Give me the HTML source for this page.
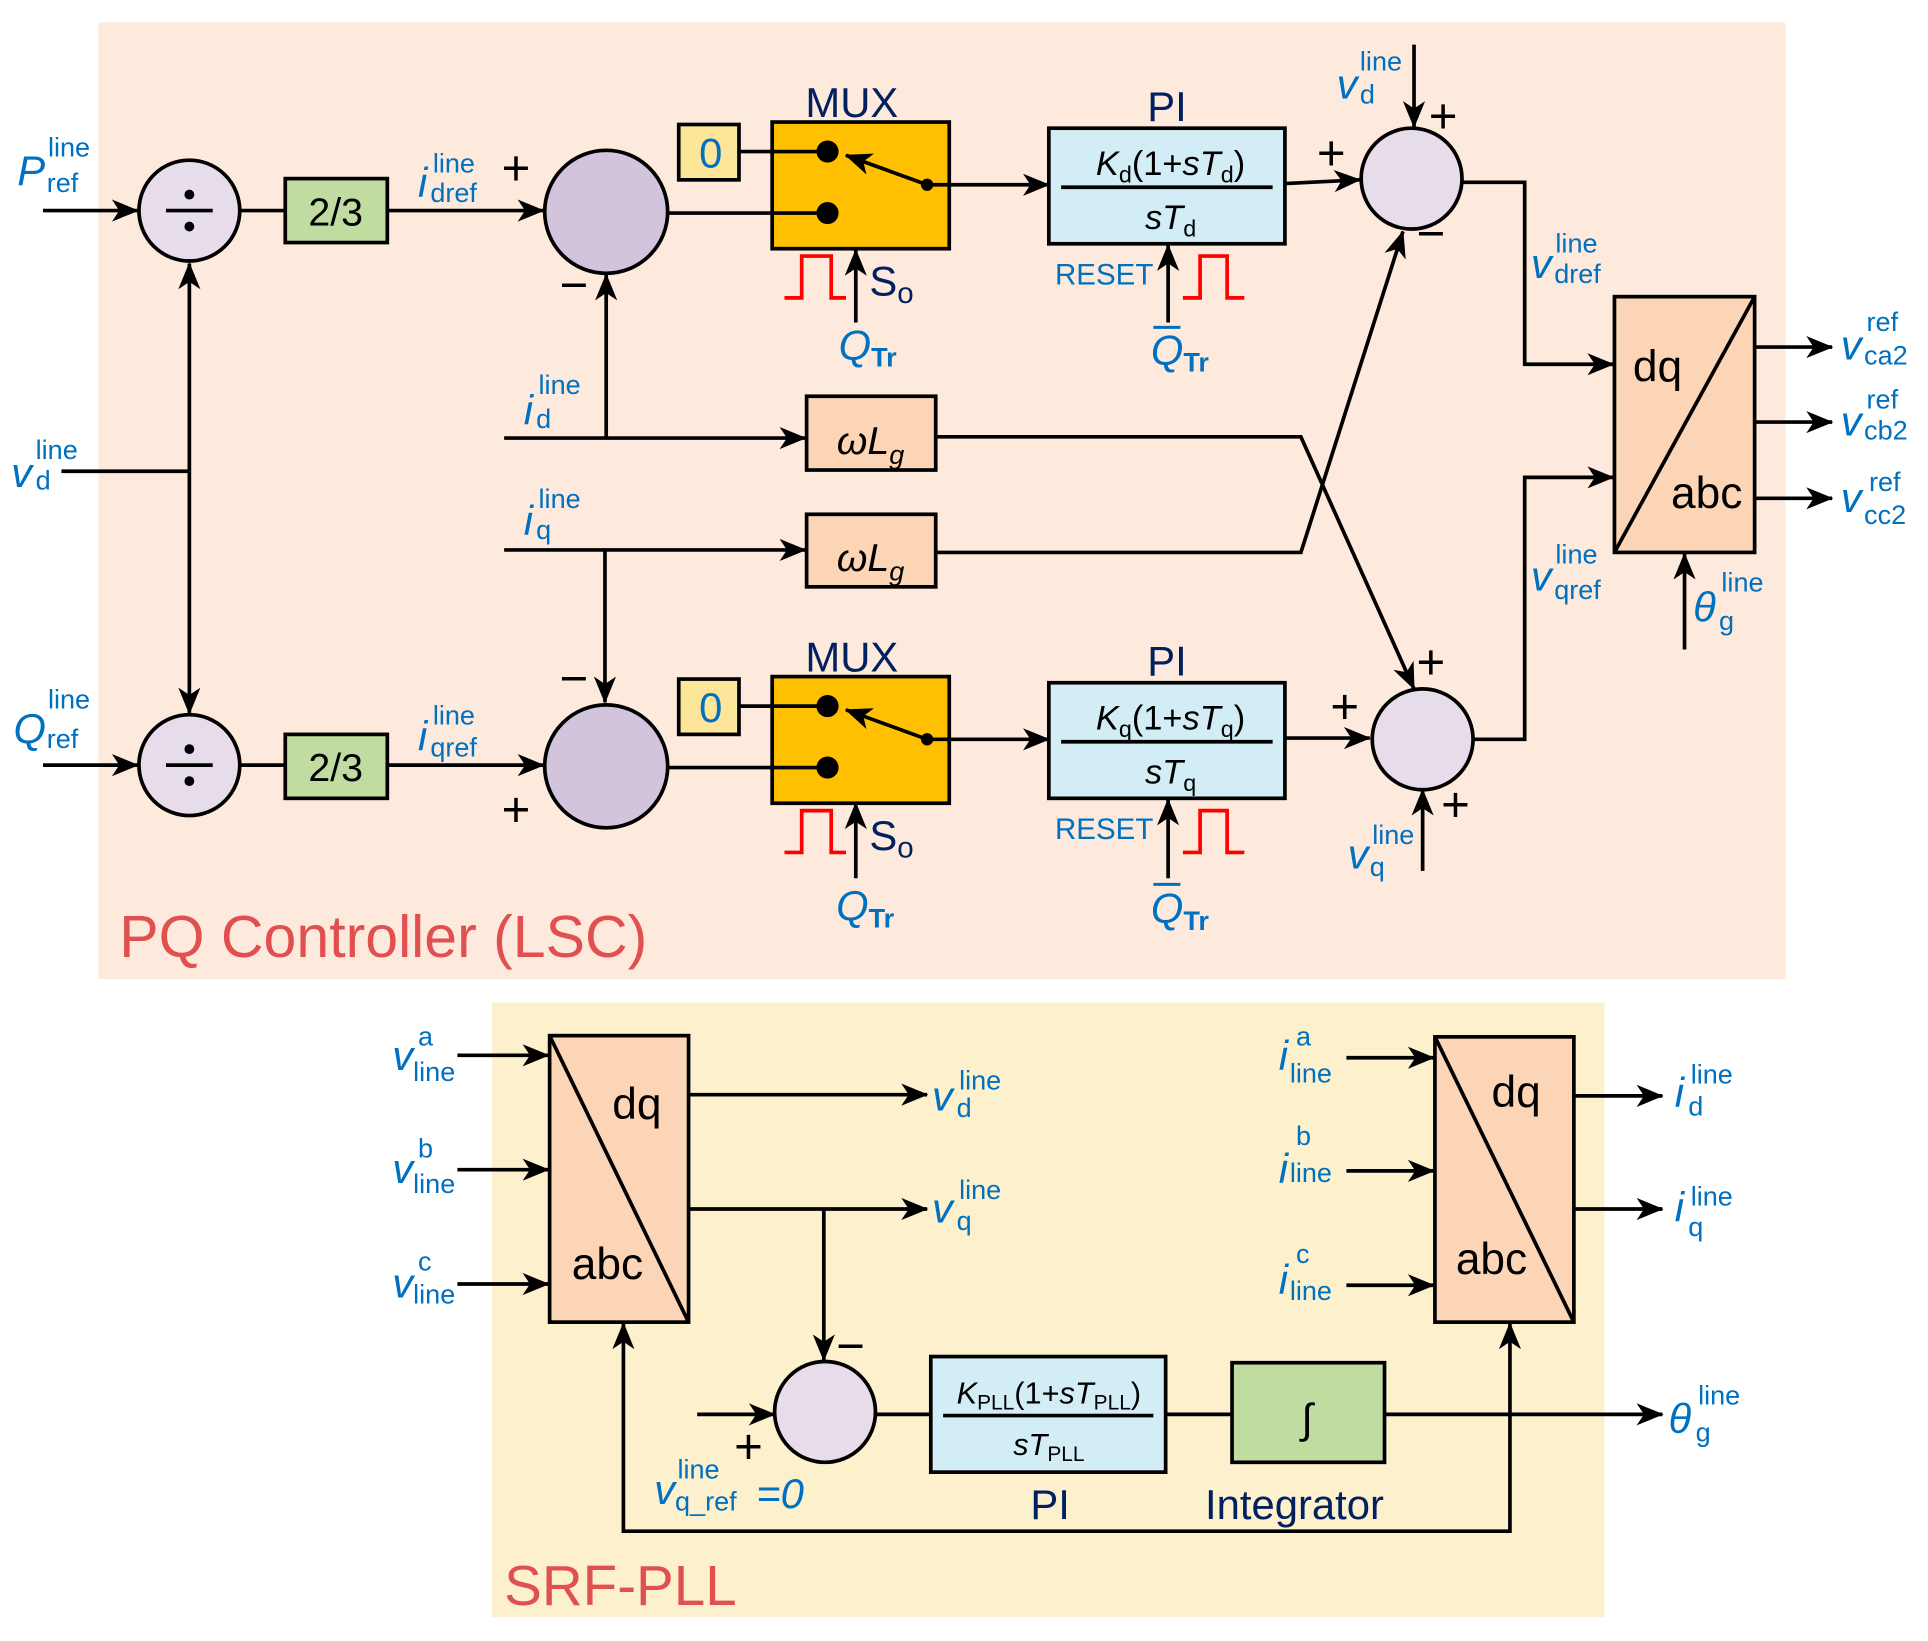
<!DOCTYPE html>
<html><head><meta charset="utf-8"><style>
body{margin:0;background:#fff}
svg text{font-family:"Liberation Sans","DejaVu Sans",sans-serif}
.b{fill:#0070c0}
.i{font-style:italic}
.n{fill:#002060}
.m{font-size:34px}
.s{font-size:22px}
.k{fill:#000}
</style></head><body>
<svg width="1928" height="1636" viewBox="0 0 1568 1330" xmlns="http://www.w3.org/2000/svg">
<defs>
<marker id="A" markerWidth="22" markerHeight="18" refX="21" refY="9" orient="auto" markerUnits="userSpaceOnUse"><path d="M0,0 L22,9 L0,18 L6,9z" fill="#000"/></marker></defs>
<rect x="80" y="18" width="1372" height="778" fill="#fdeadc"/>
<rect x="400" y="815" width="905" height="500" fill="#fdf0cc"/>
<g stroke="#000" stroke-width="3" fill="none">
<line x1="35" y1="171" x2="112" y2="171" marker-end="url(#A)"/>
<line x1="195" y1="171" x2="232" y2="171"/>
<line x1="315" y1="171" x2="442" y2="171" marker-end="url(#A)"/>
<line x1="543" y1="173" x2="628" y2="173"/>
<line x1="601" y1="123" x2="628" y2="123"/>
<line x1="772" y1="150" x2="853" y2="150" marker-end="url(#A)"/>
<line x1="1045" y1="149" x2="1106" y2="146" marker-end="url(#A)"/>
<line x1="1150" y1="36" x2="1150" y2="103" marker-end="url(#A)"/>
<polyline points="1189,148 1240,148 1240,296 1312,296" marker-end="url(#A)"/>
<line x1="696" y1="262" x2="696" y2="203" marker-end="url(#A)"/>
<line x1="950" y1="262" x2="950" y2="199" marker-end="url(#A)"/>
<line x1="35" y1="622" x2="112" y2="622" marker-end="url(#A)"/>
<line x1="195" y1="622" x2="232" y2="622"/>
<line x1="315" y1="622" x2="442" y2="622" marker-end="url(#A)"/>
<line x1="543" y1="624" x2="628" y2="624"/>
<line x1="601" y1="574" x2="628" y2="574"/>
<line x1="772" y1="601" x2="853" y2="601" marker-end="url(#A)"/>
<line x1="1045" y1="600" x2="1114" y2="600" marker-end="url(#A)"/>
<line x1="1157" y1="708" x2="1157" y2="642" marker-end="url(#A)"/>
<polyline points="1198,601 1240,601 1240,388 1312,388" marker-end="url(#A)"/>
<line x1="696" y1="714" x2="696" y2="653" marker-end="url(#A)"/>
<line x1="950" y1="714" x2="950" y2="650" marker-end="url(#A)"/>
<line x1="50" y1="383" x2="154" y2="383"/>
<line x1="154" y1="383" x2="154" y2="214" marker-end="url(#A)"/>
<line x1="154" y1="383" x2="154" y2="580" marker-end="url(#A)"/>
<line x1="410" y1="356" x2="655" y2="356" marker-end="url(#A)"/>
<line x1="493" y1="356" x2="493" y2="223" marker-end="url(#A)"/>
<line x1="410" y1="447" x2="655" y2="447" marker-end="url(#A)"/>
<line x1="492" y1="447" x2="492" y2="571" marker-end="url(#A)"/>
<polyline points="761,355 1058,355 1150,560" marker-end="url(#A)"/>
<polyline points="761,449 1058,449 1141,188" marker-end="url(#A)"/>
<line x1="1427" y1="282" x2="1490" y2="282" marker-end="url(#A)"/>
<line x1="1427" y1="343" x2="1490" y2="343" marker-end="url(#A)"/>
<line x1="1427" y1="405" x2="1490" y2="405" marker-end="url(#A)"/>
<line x1="1370" y1="528" x2="1370" y2="450" marker-end="url(#A)"/>
<line x1="372" y1="858" x2="446" y2="858" marker-end="url(#A)"/>
<line x1="372" y1="951" x2="446" y2="951" marker-end="url(#A)"/>
<line x1="372" y1="1044" x2="446" y2="1044" marker-end="url(#A)"/>
<line x1="560" y1="890" x2="754" y2="890" marker-end="url(#A)"/>
<line x1="560" y1="983" x2="754" y2="983" marker-end="url(#A)"/>
<line x1="670" y1="983" x2="670" y2="1106" marker-end="url(#A)"/>
<line x1="567" y1="1150" x2="630" y2="1150" marker-end="url(#A)"/>
<line x1="712" y1="1150" x2="757" y2="1150"/>
<line x1="948" y1="1150" x2="1002" y2="1150"/>
<line x1="1126" y1="1150" x2="1352" y2="1150" marker-end="url(#A)"/>
<line x1="1228" y1="1150" x2="1228" y2="1076" marker-end="url(#A)"/>
<polyline points="1228,1150 1228,1245 507,1245 507,1076" marker-end="url(#A)"/>
<line x1="1095" y1="860" x2="1166" y2="860" marker-end="url(#A)"/>
<line x1="1095" y1="952" x2="1166" y2="952" marker-end="url(#A)"/>
<line x1="1095" y1="1045" x2="1166" y2="1045" marker-end="url(#A)"/>
<line x1="1280" y1="891" x2="1352" y2="891" marker-end="url(#A)"/>
<line x1="1280" y1="983" x2="1352" y2="983" marker-end="url(#A)"/>
</g>
<g stroke="#000" stroke-width="3">
<circle cx="154" cy="171" r="41" fill="#e6dcea"/>
<circle cx="154" cy="622" r="41" fill="#e6dcea"/>
<circle cx="493" cy="172" r="50" fill="#d3c4de"/>
<circle cx="493" cy="623" r="50" fill="#d3c4de"/>
<circle cx="1148" cy="145" r="41" fill="#e6dcea"/>
<circle cx="1157" cy="601" r="41" fill="#e6dcea"/>
<circle cx="671" cy="1148" r="41" fill="#e6dcea"/>
<rect x="232" y="145" width="83" height="52" fill="#c0dca0"/>
<rect x="232" y="597" width="83" height="52" fill="#c0dca0"/>
<rect x="628" y="99" width="144" height="103" fill="#fec000"/>
<rect x="628" y="550" width="144" height="103" fill="#fec000"/>
<rect x="552" y="101" width="49" height="45" fill="#fde699"/>
<rect x="552" y="552" width="49" height="45" fill="#fde699"/>
<rect x="853" y="104" width="192" height="94" fill="#d2edf5"/>
<rect x="853" y="555" width="192" height="94" fill="#d2edf5"/>
<rect x="656" y="322" width="105" height="60" fill="#fbd5b5"/>
<rect x="656" y="418" width="105" height="59" fill="#fbd5b5"/>
<rect x="1313" y="241" width="114" height="208" fill="#fbd5b5"/>
<line x1="1427" y1="241" x2="1313" y2="449"/>
<rect x="447" y="842" width="113" height="233" fill="#fbd5b5"/>
<line x1="447" y1="842" x2="560" y2="1075"/>
<rect x="1167" y="843" width="113" height="232" fill="#fbd5b5"/>
<line x1="1167" y1="843" x2="1280" y2="1075"/>
<rect x="757" y="1103" width="191" height="94" fill="#d2edf5"/>
<rect x="1002" y="1108" width="124" height="81" fill="#c0dca0"/>
<line x1="863" y1="152" x2="1035" y2="152"/>
<line x1="863" y1="603" x2="1035" y2="603"/>
<line x1="767" y1="1151" x2="938" y2="1151"/>
<line x1="135" y1="171" x2="173" y2="171"/>
<line x1="135" y1="622" x2="173" y2="622"/>
</g>
<g stroke="#000" stroke-width="3" fill="none">
<line x1="628" y1="173" x2="673" y2="173"/>
<line x1="628" y1="123" x2="673" y2="123"/>
<line x1="754" y1="150" x2="772" y2="150"/>
<line x1="754" y1="150" x2="688" y2="126" marker-end="url(#A)"/>
<line x1="628" y1="624" x2="673" y2="624"/>
<line x1="628" y1="574" x2="673" y2="574"/>
<line x1="754" y1="601" x2="772" y2="601"/>
<line x1="754" y1="601" x2="688" y2="577" marker-end="url(#A)"/>
</g>
<g fill="#000">
<circle cx="154" cy="158" r="4"/><circle cx="154" cy="184" r="4"/>
<circle cx="154" cy="609" r="4"/><circle cx="154" cy="635" r="4"/>
<circle cx="673" cy="123" r="9"/><circle cx="673" cy="173" r="9"/><circle cx="754" cy="150" r="5"/>
<circle cx="673" cy="574" r="9"/><circle cx="673" cy="624" r="9"/><circle cx="754" cy="601" r="5"/>
</g>
<g stroke="#f00" stroke-width="3" fill="none">
<path d="M638,242 H652 V208 H676 V242 H688"/>
<path d="M962,242 H976 V208 H998 V242 H1012"/>
<path d="M638,693 H652 V659 H676 V693 H688"/>
<path d="M962,693 H976 V659 H998 V693 H1012"/>
</g>
<g class="k" font-size="32" text-anchor="middle">
<text x="273" y="183">2/3</text><text x="273" y="635">2/3</text>
<text x="708" y="369" class="i">ωL<tspan font-size="22" dy="8">g</tspan></text>
<text x="708" y="464" class="i">ωL<tspan font-size="22" dy="8">g</tspan></text>
<text x="952" y="142" font-size="28"><tspan class="i">K</tspan><tspan font-size="19" dy="6">d</tspan><tspan dy="-6">(1+</tspan><tspan class="i">sT</tspan><tspan font-size="19" dy="6">d</tspan><tspan dy="-6">)</tspan></text>
<text x="952" y="186" font-size="28"><tspan class="i">sT</tspan><tspan font-size="19" dy="6">d</tspan></text>
<text x="952" y="593" font-size="28"><tspan class="i">K</tspan><tspan font-size="19" dy="6">q</tspan><tspan dy="-6">(1+</tspan><tspan class="i">sT</tspan><tspan font-size="19" dy="6">q</tspan><tspan dy="-6">)</tspan></text>
<text x="952" y="637" font-size="28"><tspan class="i">sT</tspan><tspan font-size="19" dy="6">q</tspan></text>
<text x="853" y="1141" font-size="25"><tspan class="i">K</tspan><tspan font-size="17" dy="5">PLL</tspan><tspan dy="-5">(1+</tspan><tspan class="i">sT</tspan><tspan font-size="17" dy="5">PLL</tspan><tspan dy="-5">)</tspan></text>
<text x="853" y="1183" font-size="25"><tspan class="i">sT</tspan><tspan font-size="17" dy="5">PLL</tspan></text>
<text x="1063" y="1165" font-size="34">∫</text>
<text x="1348" y="310" font-size="36">dq</text><text x="1388" y="413" font-size="36">abc</text>
<text x="518" y="910" font-size="36">dq</text><text x="494" y="1040" font-size="36">abc</text>
<text x="1233" y="900" font-size="36">dq</text><text x="1213" y="1036" font-size="36">abc</text>
</g>
<g class="b" font-size="34" text-anchor="middle"><text x="578" y="136">0</text><text x="578" y="587">0</text></g>
<g class="n" font-size="34">
<text x="655" y="95">MUX</text><text x="655" y="546">MUX</text>
<text x="933" y="98">PI</text><text x="933" y="549">PI</text>
<text x="838" y="1235">PI</text><text x="980" y="1235">Integrator</text>
<text x="707" y="240">S<tspan font-size="24" dy="6">o</tspan></text>
<text x="707" y="691">S<tspan font-size="24" dy="6">o</tspan></text>
</g>
<g font-size="40" class="k">
<text x="408" y="150">+</text><text x="455" y="245">−</text>
<text x="1071" y="138">+</text><text x="1162" y="108">+</text><text x="1152" y="203">−</text>
<text x="455" y="565">−</text><text x="408" y="672">+</text>
<text x="1082" y="588">+</text><text x="1152" y="552">+</text><text x="1172" y="668">+</text>
<text x="680" y="1108">−</text><text x="597" y="1190">+</text>
</g>
<text x="97" y="778" font-size="48" fill="#e05050">PQ Controller (LSC)</text>
<text x="410" y="1305" font-size="46" fill="#e05050">SRF-PLL</text>
<g class="b">
<text x="858" y="231" font-size="24">RESET</text><text x="858" y="682" font-size="24">RESET</text>
<text x="682" y="292" class="m i">Q<tspan font-size="22" font-weight="bold" font-style="normal" dy="6">Tr</tspan></text>
<text x="680" y="748" class="m i">Q<tspan font-size="22" font-weight="bold" font-style="normal" dy="6">Tr</tspan></text>
<text x="936" y="296" class="m i">Q<tspan font-size="22" font-weight="bold" font-style="normal" dy="6">Tr</tspan></text>
<line x1="938" y1="266" x2="960" y2="266" stroke="#0070c0" stroke-width="2.5"/>
<text x="936" y="750" class="m i">Q<tspan font-size="22" font-weight="bold" font-style="normal" dy="6">Tr</tspan></text>
<line x1="938" y1="719" x2="960" y2="719" stroke="#0070c0" stroke-width="2.5"/>
<text x="14" y="150" class="m i">P</text><text x="39" y="127" class="s">line</text><text x="38" y="156" class="s">ref</text>
<text x="340" y="160" class="m i">i</text><text x="352" y="140" class="s">line</text><text x="350" y="164" class="s">dref</text>
<text x="9" y="396" class="m i">v</text><text x="29" y="373" class="s">line</text><text x="29" y="398" class="s">d</text>
<text x="426" y="345" class="m i">i</text><text x="438" y="320" class="s">line</text><text x="436" y="348" class="s">d</text>
<text x="426" y="435" class="m i">i</text><text x="438" y="413" class="s">line</text><text x="436" y="438" class="s">q</text>
<text x="11" y="604" class="m i">Q</text><text x="39" y="576" class="s">line</text><text x="38" y="608" class="s">ref</text>
<text x="340" y="610" class="m i">i</text><text x="352" y="589" class="s">line</text><text x="350" y="615" class="s">qref</text>
<text x="1087" y="80" class="m i">v</text><text x="1106" y="57" class="s">line</text><text x="1106" y="84" class="s">d</text>
<text x="1245" y="226" class="m i">v</text><text x="1265" y="205" class="s">line</text><text x="1264" y="230" class="s">dref</text>
<text x="1245" y="480" class="m i">v</text><text x="1265" y="458" class="s">line</text><text x="1264" y="487" class="s">qref</text>
<text x="1096" y="706" class="m i">v</text><text x="1116" y="686" class="s">line</text><text x="1114" y="712" class="s">q</text>
<text x="1497" y="292" class="m i">v</text><text x="1518" y="269" class="s">ref</text><text x="1516" y="296" class="s">ca2</text>
<text x="1497" y="354" class="m i">v</text><text x="1518" y="332" class="s">ref</text><text x="1516" y="357" class="s">cb2</text>
<text x="1497" y="416" class="m i">v</text><text x="1520" y="399" class="s">ref</text><text x="1516" y="426" class="s">cc2</text>
<text x="1377" y="505" class="m i" font-family="Liberation Serif">θ</text><text x="1400" y="481" class="s">line</text><text x="1398" y="512" class="s" font-family="Liberation Serif">g</text>
<text x="319" y="870" class="m i">v</text><text x="340" y="850" class="s">a</text><text x="336" y="879" class="s">line</text>
<text x="319" y="962" class="m i">v</text><text x="340" y="941" class="s">b</text><text x="336" y="970" class="s">line</text>
<text x="319" y="1055" class="m i">v</text><text x="340" y="1033" class="s">c</text><text x="336" y="1060" class="s">line</text>
<text x="758" y="903" class="m i">v</text><text x="780" y="886" class="s">line</text><text x="778" y="908" class="s">d</text>
<text x="758" y="994" class="m i">v</text><text x="780" y="975" class="s">line</text><text x="778" y="1000" class="s">q</text>
<text x="1040" y="870" class="m i">i</text><text x="1054" y="850" class="s">a</text><text x="1049" y="880" class="s">line</text>
<text x="1040" y="962" class="m i">i</text><text x="1054" y="931" class="s">b</text><text x="1049" y="961" class="s">line</text>
<text x="1040" y="1052" class="m i">i</text><text x="1054" y="1027" class="s">c</text><text x="1049" y="1057" class="s">line</text>
<text x="1362" y="900" class="m i">i</text><text x="1375" y="881" class="s">line</text><text x="1373" y="907" class="s">d</text>
<text x="1362" y="993" class="m i">i</text><text x="1375" y="980" class="s">line</text><text x="1373" y="1005" class="s">q</text>
<text x="1357" y="1165" class="m i" font-family="Liberation Serif">θ</text><text x="1381" y="1142" class="s">line</text><text x="1379" y="1172" class="s" font-family="Liberation Serif">g</text>
<text x="532" y="1223" class="m i">v</text><text x="551" y="1202" class="s">line</text><text x="549" y="1228" class="s">q_ref</text><text x="615" y="1226" class="m i">=0</text>
</g>
</svg>
</body></html>
